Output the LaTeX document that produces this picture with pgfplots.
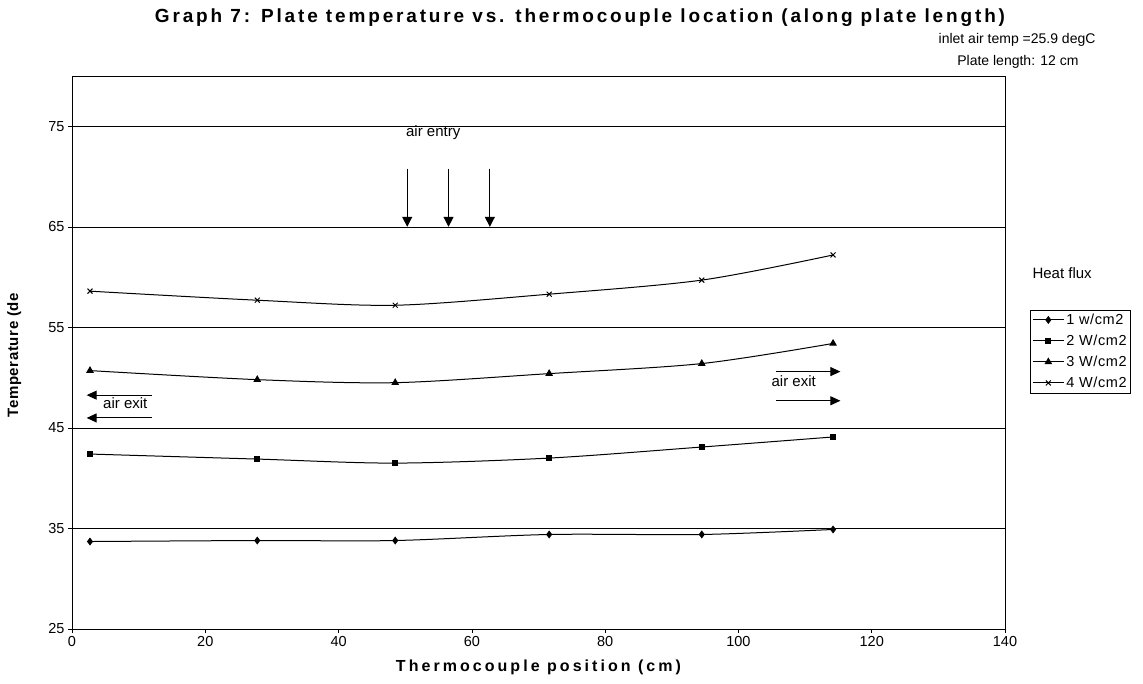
\documentclass[border=0pt]{standalone}
\usepackage{fontspec}
\setmainfont{Liberation Sans}
\usepackage{pgfplots}
\pgfplotsset{compat=1.18}
\usetikzlibrary{arrows.meta}
\begin{document}
\begin{tikzpicture}[x=1pt,y=1pt]
\useasboundingbox (0,0) rectangle (1143,683);
\begin{axis}[
    at={(72pt,54pt)}, anchor=south west,
    scale only axis, width=933pt, height=553pt,
    xmin=0, xmax=140, ymin=25, ymax=80,
    xtick={0,20,...,140}, ytick={25,35,...,75},
    ymajorgrids, grid style={black, line width=0.6pt},
    tick align=outside, tick pos=left, major tick length=4pt,
    axis line style={line width=0.8pt},
    tick style={black, line width=0.6pt},
    ticklabel style={font=\fontsize{14.5}{16}\selectfont},
    /pgf/number format/assume math mode=true,
    xlabel={\bfseries Thermocouple position (cm)},
    xlabel style={at={(axis description cs:0.5,-0.07)}, anchor=center, font=\fontsize{16}{18}\selectfont\addfontfeatures{LetterSpace=19}},
    ylabel={\bfseries Temperature (de},
    ylabel style={at={(axis description cs:-0.062,0.495)}, anchor=center, font=\fontsize{15}{17}\selectfont\addfontfeatures{LetterSpace=4}},
    legend style={at={(axis description cs:1.027,0.577)}, anchor=north west,
        draw=black, line width=0.5pt, font=\fontsize{14.5}{16}\selectfont\addfontfeatures{LetterSpace=4},
        row sep=5pt, inner sep=2pt, outer sep=0pt},
    legend cell align=left,
    legend image code/.code={\draw[mark repeat=2,mark phase=2] plot coordinates {(0cm,0cm) (0.55cm,0cm) (1.1cm,0cm)};},
    every axis plot/.append style={black, line width=1pt, smooth, tension=0.5},
]
% 1 W/cm2
\addplot[mark=diamond*, mark size=3.2pt] coordinates {
    (2.7,33.7) (27.8,33.8) (48.5,33.8) (71.6,34.4) (94.5,34.4) (114.2,34.9)
};
\addlegendentry{1 w/cm2}
% 2 W/cm2
\addplot[mark=square*, mark size=2.5pt] coordinates {
    (2.7,42.4) (27.8,41.9) (48.5,41.5) (71.6,42.0) (94.5,43.1) (114.2,44.1)
};
\addlegendentry{2 W/cm2}
% 3 W/cm2
\addplot[mark=triangle*, mark size=3.5pt] coordinates {
    (2.7,50.7) (27.8,49.8) (48.5,49.5) (71.6,50.4) (94.5,51.4) (114.2,53.4)
};
\addlegendentry{3 W/cm2}
% 4 W/cm2
\addplot[mark=x, mark size=3.5pt] coordinates {
    (2.7,58.6) (27.8,57.7) (48.5,57.2) (71.6,58.3) (94.5,59.7) (114.2,62.2)
};
\addlegendentry{4 W/cm2}

% annotations
\node[font=\fontsize{15}{17}\selectfont] at (axis cs:54.2,74.4) {air entry};
\draw[line width=1.1pt,-{Triangle[length=10pt,width=10pt]}] (axis cs:50.3,70.8) -- (axis cs:50.3,65);
\draw[line width=1.1pt,-{Triangle[length=10pt,width=10pt]}] (axis cs:56.5,70.8) -- (axis cs:56.5,65);
\draw[line width=1.1pt,-{Triangle[length=10pt,width=10pt]}] (axis cs:62.7,70.8) -- (axis cs:62.7,65);
\draw[line width=1pt,-{Triangle[length=10pt,width=9pt]}] (axis cs:12,48.26) -- (axis cs:2.2,48.26);
\draw[line width=1pt,-{Triangle[length=10pt,width=9pt]}] (axis cs:12,45.99) -- (axis cs:2.2,45.99);
\node[font=\fontsize{15}{17}\selectfont] at (axis cs:8,47.5) {air exit};
\draw[line width=1pt,-{Triangle[length=10pt,width=9pt]}] (axis cs:105.6,50.6) -- (axis cs:115.3,50.6);
\draw[line width=1pt,-{Triangle[length=10pt,width=9pt]}] (axis cs:105.6,47.7) -- (axis cs:115.3,47.7);
\node[font=\fontsize{15}{17}\selectfont] at (axis cs:108.3,49.7) {air exit};
\end{axis}
\node[font=\fontsize{19}{21}\selectfont\bfseries\addfontfeatures{LetterSpace=15}] at (580,665)
    {Graph 7: Plate temperature vs. thermocouple location (along plate length)};
\node[anchor=east, font=\fontsize{14}{16}\selectfont] at (1099,643) {inlet air temp =25.9 degC};
\node[anchor=east, font=\fontsize{14}{16}\selectfont] at (1082,621) {Plate length: 12 cm};
\node[anchor=west, font=\fontsize{15}{17}\selectfont] at (1029,410) {Heat flux};
\end{tikzpicture}
\end{document}
